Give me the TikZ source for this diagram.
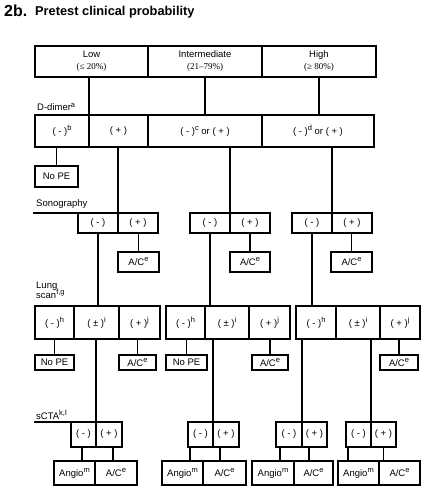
\documentclass[tikz,border=0pt]{standalone}
\usepackage{fontspec}
\setmainfont{Liberation Sans}
\newfontfamily\pctfont{Liberation Serif}
\newcommand\fcell[7][]{\node[cell,#1, minimum width={#4pt-#3pt}, minimum height={#6pt-#5pt}] (#2) at ({(#3+#4)/2},{(#5+#6)/2}) {#7};}
\newcommand\msup[1]{\raisebox{0.42em}{\fontsize{7.5}{8}\selectfont #1}}
\begin{document}
\begin{tikzpicture}[x=1pt,y=-1pt,
  cell/.style={draw, line width=1.5pt, rectangle, inner sep=0pt, outer sep=0pt, align=center, font=\fontsize{9.5}{12}\selectfont},
  main/.style={line width=2.6pt},
  conn/.style={line width=1.5pt},
  lbl/.style={anchor=base west, inner sep=0pt, font=\fontsize{9.5}{10}\selectfont}]
\useasboundingbox (0,0) rectangle (429,494);
% title
\node[anchor=base west, inner sep=0pt, font=\fontsize{16}{16}\bfseries\selectfont] (num) at (4,17) {2b.};
\node[anchor=base west, inner sep=0pt, font=\fontsize{12.8}{14}\bfseries\selectfont] (title) at (35,16) {Pretest clinical probability};
% top row
\fcell{low}{35}{148}{46}{77}{Low\\{\pctfont\fontsize{9}{10}\selectfont(≤ 20\%)}}
\fcell{int}{148}{262}{46}{77}{Intermediate\\{\pctfont\fontsize{9}{10}\selectfont(21–79\%)}}
\fcell{high}{262}{376}{46}{77}{High\\{\pctfont\fontsize{9}{10}\selectfont(≥ 80\%)}}
% D-dimer
\node[lbl] (ddlbl) at (37,111) {D-dimer\msup{a}};
\fcell{ddA}{35}{89}{115}{147}{( - )\msup{b}}
\fcell{ddB}{89}{148}{115}{147}{( + )}
\fcell{ddC}{148}{262}{115}{147}{( - )\msup{c} or ( + )}
\fcell{ddD}{262}{374}{115}{147}{( - )\msup{d} or ( + )}
\draw[main] (low.south -| ddA.north east) -- (ddA.north east) -- (ddA.south east);
\draw[main] (int.south) -- (int.south |- ddC.north);
\draw[main] (high.south) -- (high.south |- ddD.north);
\fcell{noA}{35}{78}{166}{187}{No PE}
\draw[conn] (noA.north) -- (noA.north |- ddA.south);
% Sonography
\node[lbl] (sonolbl) at (36,206) {Sonography};
\fcell{s1m}{78}{118}{213}{233}{( - )}
\fcell{s1p}{118}{158}{213}{233}{( + )}
\fcell{s2m}{190}{230}{213}{233}{( - )}
\fcell{s2p}{230}{270}{213}{233}{( + )}
\fcell{s3m}{292}{332}{213}{233}{( - )}
\fcell{s3p}{332}{372}{213}{233}{( + )}
\coordinate (sonoEnd) at (33,213);
\draw[conn] (sonoEnd) -- (s1m.north west);
\draw[main] (s1m.north east) -- (s1m.north east |- ddB.south);
\draw[main] (s2m.north east) -- (s2m.north east |- ddC.south);
\draw[main] (s3m.north east) -- (s3m.north east |- ddD.south);
\fcell{acS1}{118}{159}{252}{272}{A/C\msup{e}}
\fcell{acS2}{230}{270}{252}{272}{A/C\msup{e}}
\fcell{acS3}{331}{372}{252}{272}{A/C\msup{e}}
\draw[conn] (acS1.north) -- (acS1.north |- s1p.south);
\draw[conn] (acS2.north) -- (acS2.north |- s2p.south);
\draw[conn] (acS3.north) -- (acS3.north |- s3p.south);
% Lung scan
\node[lbl, align=left, anchor=north west] (lunglbl) at (36,282) {Lung\\[-3pt]scan\msup{f,g}};
\fcell{l1a}{35}{74}{306}{339}{( - )\msup{h}}
\fcell{l1b}{74}{119}{306}{339}{( ± )\msup{i}}
\fcell{l1c}{119}{160}{306}{339}{( + )\msup{j}}
\fcell{l2a}{166}{205}{306}{339}{( - )\msup{h}}
\fcell{l2b}{205}{249}{306}{339}{( ± )\msup{i}}
\fcell{l2c}{249}{290}{306}{339}{( + )\msup{j}}
\fcell{l3a}{296}{336}{306}{339}{( - )\msup{h}}
\fcell{l3b}{336}{380}{306}{339}{( ± )\msup{i}}
\fcell{l3c}{380}{420}{306}{339}{( + )\msup{j}}
\draw[main] (s1m.south) -- (s1m.south |- l1b.north);
\draw[main] (s2m.south) -- (s2m.south |- l2b.north);
\draw[main] (s3m.south) -- (s3m.south |- l3a.north);
\fcell{noL1}{35}{74}{355}{370}{No PE}
\fcell{acL1}{119}{156}{355}{370}{A/C\msup{e}}
\fcell{noL2}{166}{207}{355}{370}{No PE}
\fcell{acL2}{252}{288}{355}{370}{A/C\msup{e}}
\fcell{acL3}{380}{418}{355}{370}{A/C\msup{e}}
\draw[conn] (noL1.north) -- (noL1.north |- l1a.south);
\draw[conn] (acL1.north) -- (acL1.north |- l1c.south);
\draw[conn] (noL2.north) -- (noL2.north |- l2a.south);
\draw[conn] (acL2.north) -- (acL2.north |- l2c.south);
\draw[conn] (acL3.north) -- (acL3.north |- l3c.south);
% sCTA
\node[lbl] (sctalbl) at (36,419) {sCTA\msup{k,l}};
\fcell{c1m}{71}{96}{422}{447}{( - )}
\fcell{c1p}{96}{122}{422}{447}{( + )}
\fcell{c2m}{188}{213}{422}{447}{( - )}
\fcell{c2p}{213}{239}{422}{447}{( + )}
\fcell{c3m}{276}{302}{422}{447}{( - )}
\fcell{c3p}{302}{327}{422}{447}{( + )}
\fcell{c4m}{346}{371}{422}{447}{( - )}
\fcell{c4p}{371}{396}{422}{447}{( + )}
\coordinate (sctaEnd) at (34,422);
\draw[conn] (sctaEnd) -- (c1m.north west);
\draw[main] (l1b.south -| c1m.north east) -- (c1m.north east) -- (c1m.south east);
\draw[main] (l2b.south -| c2m.north east) -- (c2m.north east);
\draw[main] (l3a.south -| c3m.north east) -- (c3m.north east);
\draw[main] (l3b.south -| c4m.north east) -- (c4m.north east);
% bottom
\fcell{a1}{54}{95}{461}{485}{Angio\msup{m}}
\fcell{e1}{95}{137}{461}{485}{A/C\msup{e}}
\fcell{a2}{162}{203}{461}{485}{Angio\msup{m}}
\fcell{e2}{203}{246}{461}{485}{A/C\msup{e}}
\fcell{a3}{252}{294}{461}{485}{Angio\msup{m}}
\fcell{e3}{294}{333}{461}{485}{A/C\msup{e}}
\fcell{a4}{338}{379}{461}{485}{Angio\msup{m}}
\fcell{e4}{379}{420}{461}{485}{A/C\msup{e}}
\draw[conn] ([xshift=-1.5pt]c1m.south) -- ([xshift=-1.5pt]c1m.south |- a1.north);
\draw[conn] ([xshift=4pt]c1p.south) -- ([xshift=4pt]c1p.south |- e1.north);
\draw[conn] ([xshift=-10.5pt]c2m.south) -- ([xshift=-10.5pt]c2m.south |- a2.north);
\draw[conn] ([xshift=-6pt]c2p.south) -- ([xshift=-6pt]c2p.south |- e2.north);
\draw[conn] ([xshift=-9pt]c3m.south) -- ([xshift=-9pt]c3m.south |- a3.north);
\draw[conn] ([xshift=-5.5pt]c3p.south) -- ([xshift=-5.5pt]c3p.south |- e3.north);
\draw[conn] ([xshift=-10.5pt]c4m.south) -- ([xshift=-10.5pt]c4m.south |- a4.north);
\draw[conn] (c4p.south) -- (c4p.south |- e4.north);
\end{tikzpicture}
\end{document}
